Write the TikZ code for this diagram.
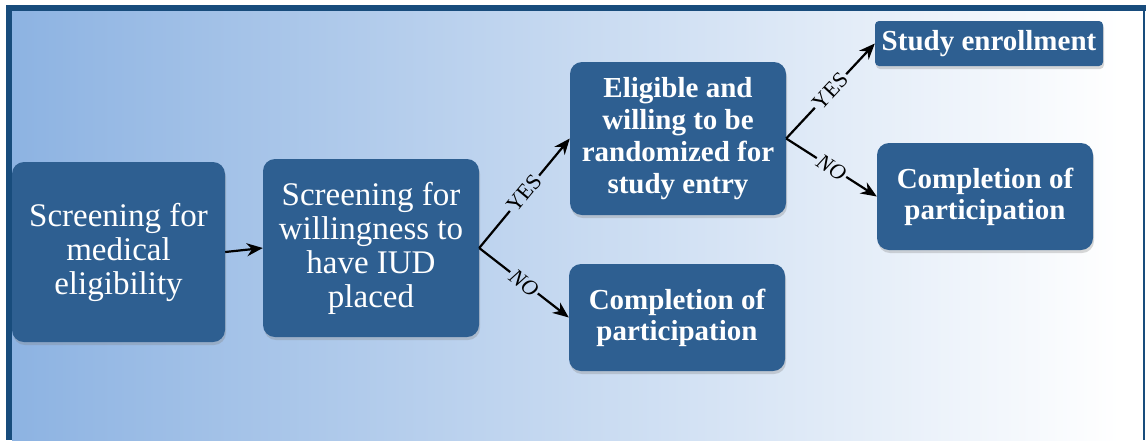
\documentclass[tikz,border=0pt]{standalone}
\usepackage{fontspec}
\setmainfont{Liberation Serif}
\usetikzlibrary{shadows,arrows.meta}
\definecolor{frameblue}{RGB}{24,76,124}
\definecolor{boxblue}{RGB}{46,95,145}
\definecolor{bgL}{RGB}{141,179,226}
\definecolor{bgM}{RGB}{200,216,238}
\begin{document}
\begin{tikzpicture}[x=1pt,y=-1pt,
  box/.style={rectangle, rounded corners=12pt, fill=boxblue, text=white, align=center, inner sep=0pt,
    drop shadow={opacity=0.3, shadow xshift=1pt, shadow yshift=-3pt}},
  lighttext/.style={font=\fontsize{33}{34}\selectfont\rmfamily},
  heavytext/.style={font=\fontsize{29}{32}\selectfont\rmfamily\bfseries},
  conn/.style={line width=2.2pt, black},
  arr/.style={conn, -{Stealth[length=16pt,width=13pt]}},
  lab/.style={sloped, inner sep=2pt, font=\fontsize{22}{22}\selectfont\rmfamily}]
\useasboundingbox (0,0) rectangle (1146,440);
\fill[white] (0,0) rectangle (1146,440);
% background gradient
\shade[left color=bgL, middle color=bgM, right color=white] (12,11) rectangle (1120,440);
\fill[white] (1120,11) rectangle (1143,440);
% frame
\fill[frameblue] (6,5) rectangle (1146,11);
\fill[frameblue] (6,5) rectangle (12,440);
\fill[frameblue] (1143,11) rectangle (1145,440);
% boxes
\node[box, lighttext, minimum width=213pt, minimum height=180pt] (b1) at (118.5,252) {Screening for\\medical\\eligibility};
\node[box, lighttext, minimum width=216pt, minimum height=178pt] (b2) at (371,248) {Screening for\\willingness to\\have IUD\\placed};
\node[box, heavytext, minimum width=216pt, minimum height=153pt] (b3) at (678,138.5) {Eligible and\\willing to be\\randomized for\\study entry};
\node[box, heavytext, minimum width=216pt, minimum height=107pt, font=\fontsize{29}{31}\selectfont\rmfamily\bfseries] (b4) at (677,317.5) {Completion of\\participation};
\node[box, heavytext, rounded corners=4pt, minimum width=228pt, minimum height=45pt] (b5) at (989,43.5) {Study enrollment};
\node[box, heavytext, minimum width=216pt, minimum height=107pt, font=\fontsize{29}{31}\selectfont\rmfamily\bfseries] (b6) at (985,196.5) {Completion of\\participation};
% connectors
\draw[arr] (b1.east) -- (b2.west);
\path (b2.east) -- node[lab, pos=0.5] (y1) {YES} (b3.west);
\draw[conn] (b2.east) -- (y1.west);
\draw[arr] (y1.east) -- (b3.west);
\path (b2.east) -- node[lab, pos=0.5] (n1) {\itshape NO} (b4.west);
\draw[conn] (b2.east) -- (n1.west);
\draw[arr] (n1.east) -- (b4.west);
\path (b3.east) -- node[lab, pos=0.5] (y2) {YES} (b5.west);
\draw[conn] (b3.east) -- (y2.west);
\draw[arr] (y2.east) -- (b5.west);
\path (b3.east) -- node[lab, pos=0.5] (n2) {\itshape NO} (b6.west);
\draw[conn] (b3.east) -- (n2.west);
\draw[arr] (n2.east) -- (b6.west);
\end{tikzpicture}
\end{document}
